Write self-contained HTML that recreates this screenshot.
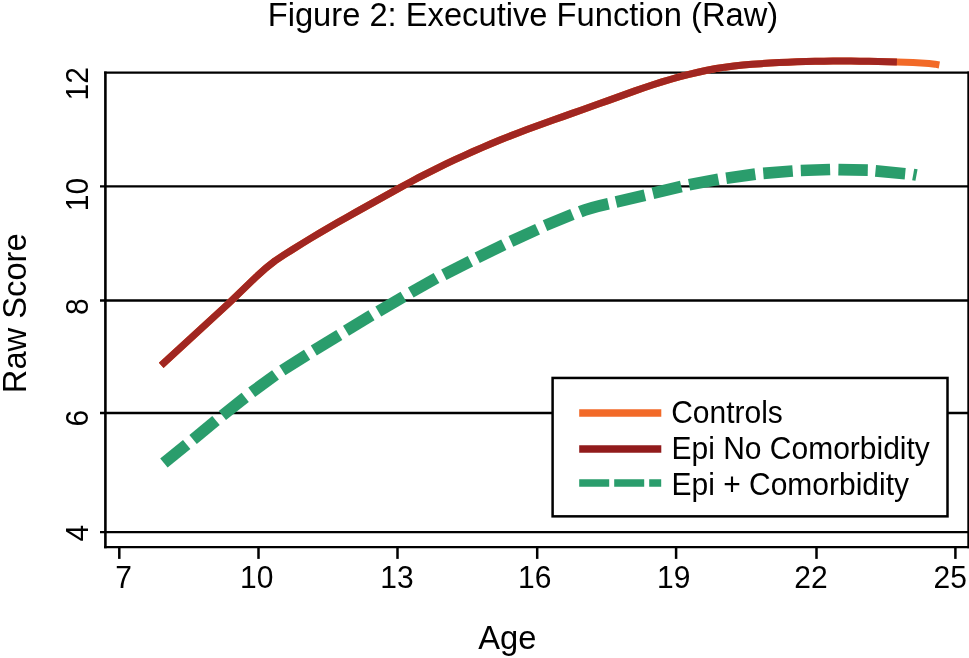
<!DOCTYPE html>
<html lang="en">
<head>
<meta charset="utf-8">
<title>Figure 2: Executive Function (Raw)</title>
<style>
html,body{margin:0;padding:0;background:#fff;}
body{width:969px;height:658px;overflow:hidden;}
svg{display:block;}
text{font-family:"Liberation Sans",Arial,Helvetica,sans-serif;fill:#000;}
.t{font-size:32.7px;}
.k{font-size:30px;}
</style>
</head>
<body>
<svg width="969" height="658" viewBox="0 0 969 658">
<rect x="0" y="0" width="969" height="658" fill="#fff"/>
<!-- grid lines -->
<g stroke="#000" stroke-width="2.3" fill="none">
<line x1="100" y1="186.45" x2="968" y2="186.45"/>
<line x1="100" y1="300.5" x2="968" y2="300.5"/>
<line x1="100" y1="413" x2="968" y2="413"/>
<line x1="100" y1="532.15" x2="968" y2="532.15"/>
</g>
<!-- plot frame -->
<g stroke="#000" fill="none">
<line x1="105.4" y1="71.4" x2="105.4" y2="548.3" stroke-width="2.6"/>
<line x1="104.1" y1="72.6" x2="969" y2="72.6" stroke-width="2.4"/>
<line x1="968.6" y1="71.4" x2="968.6" y2="548.3" stroke-width="2.6"/>
<line x1="104.1" y1="547.1" x2="969" y2="547.1" stroke-width="2.4"/>
</g>
<!-- x ticks -->
<g stroke="#000" stroke-width="2.5" fill="none">
<line x1="119.3" y1="548" x2="119.3" y2="558.9"/>
<line x1="258.5" y1="548" x2="258.5" y2="558.9"/>
<line x1="397.5" y1="548" x2="397.5" y2="558.9"/>
<line x1="537.2" y1="548" x2="537.2" y2="558.9"/>
<line x1="676.1" y1="548" x2="676.1" y2="558.9"/>
<line x1="816.5" y1="548" x2="816.5" y2="558.9"/>
<line x1="955.4" y1="548" x2="955.4" y2="558.9"/>
</g>
<!-- curves -->
<path id="ctl" d="M161.2,365.3 L228,304 L256,277 Q265.5,267.9 275,260.9 L284.0,254.93 L293.0,249.19 L302.0,243.61 L311.0,238.13 L320.0,232.75 L329.0,227.48 L338.0,222.29 L347.0,217.18 L356.0,212.11 L365.0,207.08 L374.0,202.08 L383.0,197.10 L392.0,192.11 L401.0,187.15 L410.0,182.25 L419.0,177.44 L428.0,172.78 L437.0,168.27 L446.0,163.91 L455.0,159.68 L464.0,155.56 L473.0,151.54 L482.0,147.58 L491.0,143.72 L500.0,139.99 L509.0,136.41 L518.0,132.95 L527.0,129.58 L536.0,126.28 L545.0,123.03 L554.0,119.81 L563.0,116.61 L572.0,113.41 L581.0,110.22 L590.0,107.02 L599.0,103.80 L608.0,100.58 L617.0,97.34 L626.0,94.12 L635.0,90.92 L644.0,87.79 L653.0,84.79 L662.0,81.93 L671.0,79.23 L680.0,76.73 L689.0,74.42 L698.0,72.26 L707.0,70.23 L716.0,68.53 L725.0,67.16 L734.0,66.03 L743.0,65.10 L752.0,64.33 L761.0,63.68 L770.0,63.11 L779.0,62.61 L788.0,62.16 L797.0,61.77 L806.0,61.47 L815.0,61.27 L824.0,61.13 L833.0,61.05 L842.0,61.03 L851.0,61.07 L860.0,61.17 L869.0,61.33 L878.0,61.55 L887,61.7 L896.9,62.0 L905,62.2 L913,62.5 L921,62.95 L929,63.55 L935,64.15 L939.35,64.95" fill="none" stroke="#F26A28" stroke-width="7" stroke-linejoin="round"/>
<path id="epi" d="M161.2,365.3 L228,304 L256,277 Q265.5,267.9 275,260.9 L284.0,254.93 L293.0,249.19 L302.0,243.61 L311.0,238.13 L320.0,232.75 L329.0,227.48 L338.0,222.29 L347.0,217.18 L356.0,212.11 L365.0,207.08 L374.0,202.08 L383.0,197.10 L392.0,192.11 L401.0,187.15 L410.0,182.25 L419.0,177.44 L428.0,172.78 L437.0,168.27 L446.0,163.91 L455.0,159.68 L464.0,155.56 L473.0,151.54 L482.0,147.58 L491.0,143.72 L500.0,139.99 L509.0,136.41 L518.0,132.95 L527.0,129.58 L536.0,126.28 L545.0,123.03 L554.0,119.81 L563.0,116.61 L572.0,113.41 L581.0,110.22 L590.0,107.02 L599.0,103.80 L608.0,100.58 L617.0,97.34 L626.0,94.12 L635.0,90.92 L644.0,87.79 L653.0,84.79 L662.0,81.93 L671.0,79.23 L680.0,76.73 L689.0,74.42 L698.0,72.26 L707.0,70.23 L716.0,68.53 L725.0,67.16 L734.0,66.03 L743.0,65.10 L752.0,64.33 L761.0,63.68 L770.0,63.11 L779.0,62.61 L788.0,62.16 L797.0,61.77 L806.0,61.47 L815.0,61.27 L824.0,61.13 L833.0,61.05 L842.0,61.03 L851.0,61.07 L860.0,61.17 L869.0,61.33 L878.0,61.55 L887,61.7 L896.9,62.0" fill="none" stroke="#A02621" stroke-width="7" stroke-linejoin="round"/>
<g id="com" fill="none" stroke="#2A9D6C" stroke-width="11.7">
<path d="M163.9,463.1 L186.7,444.4"/>
<path d="M193.1,439.4 L216,420.5"/>
<path d="M222.4,415.5 L245.2,397.4"/>
<path d="M251.7,392.3 L275.5,374.9"/>
<path d="M282.3,370.4 L307.1,354.8"/>
<path d="M313.8,350.4 L339.3,335.1"/>
<path d="M346,330.7 L371.5,315.3"/>
<path d="M378.3,311.5 L403.5,296.7"/>
<path d="M410.75,292.5 L436.5,278"/>
<path d="M443.8,274.7 L470.4,261.2"/>
<path d="M477.2,257.8 L503.8,244.7"/>
<path d="M510.9,241.4 L537.55,229.25"/>
<path d="M545,225.7 L572.4,214.45"/>
<path d="M580.2,211.75 Q588,208.4 608.45,203.8"/>
<path d="M616,202 L644.9,195.3"/>
<path d="M652.9,193.3 L681.3,186.5"/>
<path d="M689.1,184.75 L718.4,179.3"/>
<path d="M726.2,178.2 L755.3,174.1"/>
<path d="M763.3,173.4 L792.7,171"/>
<path d="M800.8,170.5 L830.1,169.5"/>
<path d="M838.4,169.6 L867.8,170.2"/>
<path d="M875.5,170.9 L905.2,173.7"/>
<path d="M913.2,174.5 L916.5,175.1"/>
</g>
<!-- legend -->
<rect x="552.6" y="377.95" width="394.9" height="138.4" fill="#fff" stroke="#000" stroke-width="2.5"/>
<line x1="579.2" y1="413.05" x2="661.3" y2="413.05" stroke="#F26A28" stroke-width="7.5"/>
<line x1="579.2" y1="448.95" x2="661.3" y2="448.95" stroke="#911B1C" stroke-width="7.5"/>
<line x1="579.2" y1="483.05" x2="661.2" y2="483.05" stroke="#2A9D6C" stroke-width="7.6" stroke-dasharray="30 5"/>
<text class="k" transform="translate(671.2,422.5) scale(1,1.035)">Controls</text>
<text class="k" transform="translate(671.5,459.1) scale(1,1.035)">Epi No Comorbidity</text>
<text class="k" transform="translate(671.5,495.1) scale(1,1.035)">Epi + Comorbidity</text>
<!-- title -->
<text class="t" transform="translate(267.7,26.1) scale(1,1.035)">Figure 2: Executive Function (Raw)</text>
<!-- x tick labels -->
<text class="k" transform="translate(115.2,587.7) scale(1,1.045)">7</text>
<text class="k" transform="translate(240,587.7) scale(1,1.045)">10</text>
<text class="k" transform="translate(380.3,587.7) scale(1,1.045)">13</text>
<text class="k" transform="translate(518,587.7) scale(1,1.045)">16</text>
<text class="k" transform="translate(657,587.7) scale(1,1.045)">19</text>
<text class="k" transform="translate(794.3,587.7) scale(1,1.045)">22</text>
<text class="k" transform="translate(933.5,587.7) scale(1,1.045)">25</text>
<text class="t" transform="translate(478.2,649) scale(1,1.035)">Age</text>
<!-- y tick labels -->
<text class="k" transform="translate(88.1,100.4) rotate(-90) scale(1,1.045)">12</text>
<text class="k" transform="translate(88.1,211.3) rotate(-90) scale(1,1.045)">10</text>
<text class="k" transform="translate(88.1,315) rotate(-90) scale(1,1.045)">8</text>
<text class="k" transform="translate(88.1,426.6) rotate(-90) scale(1,1.045)">6</text>
<text class="k" transform="translate(88.1,541.5) rotate(-90) scale(1,1.045)">4</text>
<text class="t" transform="translate(26.3,393.2) rotate(-90) scale(1,1.035)">Raw Score</text>
</svg>
</body>
</html>
